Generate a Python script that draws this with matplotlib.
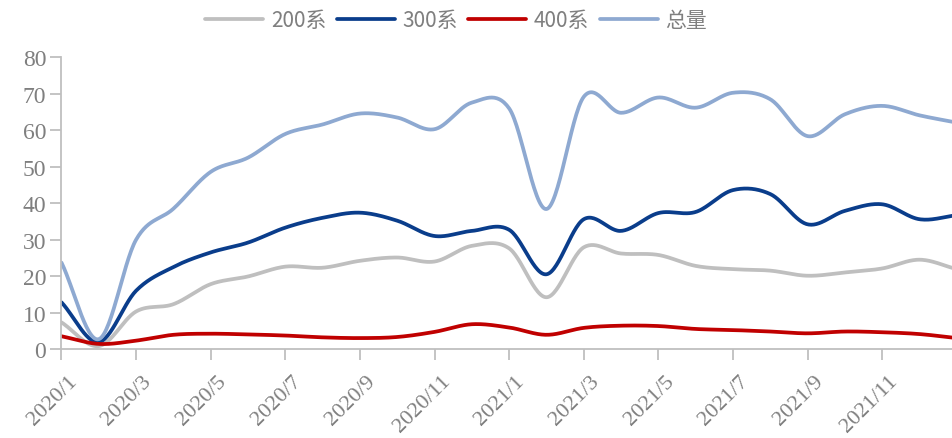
import numpy as np
import matplotlib
matplotlib.use("Agg")
import matplotlib.pyplot as plt
import matplotlib.transforms as mtransforms

months = ["2020/1","2020/2","2020/3","2020/4","2020/5","2020/6","2020/7","2020/8",
          "2020/9","2020/10","2020/11","2020/12","2021/1","2021/2","2021/3","2021/4",
          "2021/5","2021/6","2021/7","2021/8","2021/9","2021/10","2021/11","2021/12","2022/1"]
tick_labels = months[0:24:2]

s200 = [7.3, 0.8, 10.3, 12.3, 17.8, 19.9, 22.6, 22.3, 24.2, 25.1, 24.0, 28.3,
        27.6, 14.2, 27.9, 26.2, 25.8, 22.8, 21.9, 21.5, 20.1, 21.0, 22.1, 24.5, 21.9]
s300 = [12.8, 1.9, 16.0, 22.5, 26.5, 29.2, 33.3, 36.0, 37.4, 35.2, 31.0, 32.4,
        32.7, 20.5, 35.6, 32.4, 37.3, 37.6, 43.6, 42.5, 34.2, 37.9, 39.7, 35.6, 36.7]
s400 = [3.5, 1.4, 2.3, 3.9, 4.2, 4.0, 3.7, 3.2, 3.0, 3.3, 4.7, 6.8,
        5.9, 3.9, 5.8, 6.4, 6.3, 5.5, 5.2, 4.8, 4.3, 4.8, 4.6, 4.1, 3.0]
total = [23.7, 2.7, 30.0, 38.5, 48.6, 52.5, 59.0, 61.6, 64.6, 63.5, 60.3, 67.6,
         66.0, 38.4, 69.2, 64.8, 69.0, 66.2, 70.3, 68.5, 58.4, 64.4, 66.7, 64.1, 62.1]

series = [("200系", s200, "#BFBFBF"),
          ("300系", s300, "#0A3D8B"),
          ("400系", s400, "#C00000"),
          ("总量", total, "#8EA9D1")]


def smooth(y, n=30):
    y = np.asarray(y, float)
    x = np.arange(len(y), dtype=float)
    P = np.concatenate([[2 * y[0] - y[1]], y, [2 * y[-1] - y[-2]]])
    X = np.concatenate([[x[0] - 1], x, [x[-1] + 1]])
    xs, ys = [], []
    t = np.linspace(0, 1, n, endpoint=False)
    for i in range(1, len(P) - 2):
        for arr, out in ((X, xs), (P, ys)):
            p0, p1, p2, p3 = arr[i - 1], arr[i], arr[i + 1], arr[i + 2]
            c1 = p1 + (p2 - p0) / 6
            c2 = p2 - (p3 - p1) / 6
            out.extend((1 - t) ** 3 * p1 + 3 * (1 - t) ** 2 * t * c1
                       + 3 * (1 - t) * t ** 2 * c2 + t ** 3 * p2)
    xs.append(x[-1]); ys.append(y[-1])
    return np.array(xs), np.array(ys)


grey = "#7F7F7F"
fig = plt.figure(figsize=(9.52, 4.39), dpi=100)
ax = fig.add_axes([0.0646, 0.2027, 0.9354, 0.6643])

for name, vals, col in series:
    xs, ys = smooth(vals)
    ax.plot(xs, ys, color=col, lw=2.7, label=name, solid_capstyle="round")

ax.set_xlim(0, 23.87)
ax.set_ylim(0, 80)
ax.set_yticks(range(0, 81, 10))
ax.set_xticks(range(0, 24, 2))

for sp in ["top", "right"]:
    ax.spines[sp].set_visible(False)
for sp in ["left", "bottom"]:
    ax.spines[sp].set_color("#BFBFBF")
    ax.spines[sp].set_linewidth(1.3)
ax.tick_params(axis="both", direction="out", length=8, width=1.3, color="#BFBFBF",
               labelcolor=grey)
ax.tick_params(axis="x", pad=8, labelsize=16)
ax.tick_params(axis="y", pad=3, labelsize=17)

ax.set_xticklabels(tick_labels, rotation=45, ha="right", va="top",
                   rotation_mode="anchor")
offset = mtransforms.ScaledTranslation(6 / 100, 0, fig.dpi_scale_trans)
for lab in ax.get_xticklabels():
    lab.set_fontfamily(["Liberation Serif", "DejaVu Serif"])
    lab.set_fontsize(16)
    lab.set_transform(lab.get_transform() + offset)
for lab in ax.get_yticklabels():
    lab.set_fontfamily(["Liberation Serif", "DejaVu Serif"])
    lab.set_fontsize(17)

leg = fig.legend(loc="upper center", bbox_to_anchor=(456 / 952, 1.02), ncol=4,
                 frameon=False, handlelength=2.8, handletextpad=0.35,
                 columnspacing=0.5,
                 prop={"family": ["Noto Sans CJK SC", "DejaVu Sans"], "size": 15})
for t in leg.get_texts():
    t.set_color(grey)

fig.savefig("out.png", dpi=100)
